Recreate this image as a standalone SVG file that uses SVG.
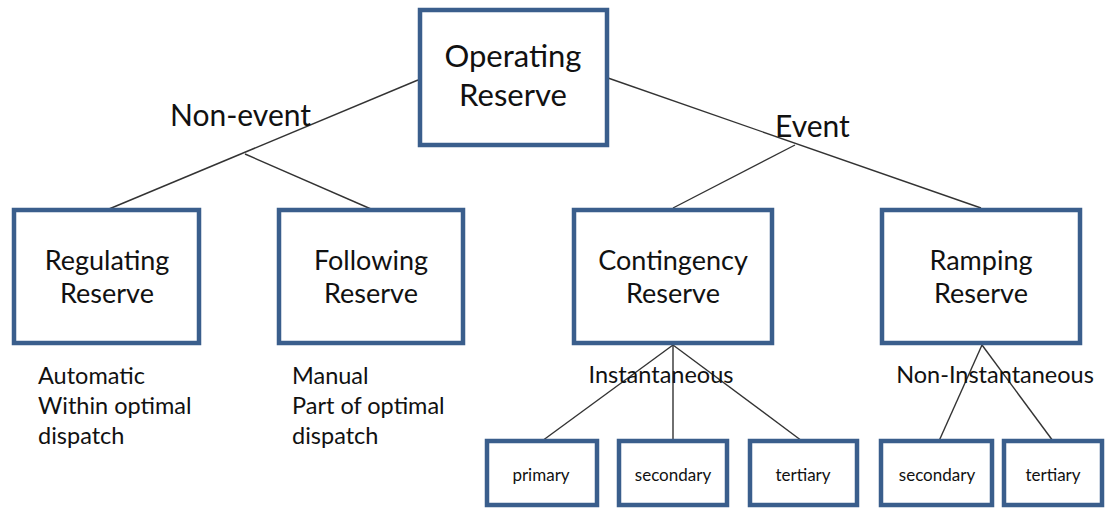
<svg xmlns="http://www.w3.org/2000/svg" width="1106" height="508" viewBox="0 0 1106 508">
<style>
.box{fill:#fff;stroke:#3A5E8C;stroke-width:4.5}
.t{font-family:Lato,"Liberation Sans",sans-serif;fill:#111;text-anchor:middle}
.big{font-size:31px}
.mid{font-size:27px}
.lbl{font-family:Lato,"Liberation Sans",sans-serif;fill:#111;font-size:30px}
.sub{font-family:Lato,"Liberation Sans",sans-serif;fill:#111;font-size:23.5px}
.sm{font-size:17px}
.c{stroke:#333;stroke-width:1.4;fill:none}
</style>
<rect width="1106" height="508" fill="#fff"/>
<g id="connectors">
<line class="c" x1="418" y1="80" x2="109" y2="209"/>
<line class="c" x1="245" y1="154" x2="371" y2="209"/>
<line class="c" x1="608" y1="78" x2="981" y2="208"/>
<line class="c" x1="795" y1="145" x2="673" y2="208"/>
<line class="c" x1="673" y1="345" x2="542" y2="441"/>
<line class="c" x1="673" y1="345" x2="673" y2="441"/>
<line class="c" x1="673" y1="345" x2="802" y2="441"/>
<line class="c" x1="982" y1="345" x2="939" y2="441"/>
<line class="c" x1="982" y1="345" x2="1053" y2="441"/>
</g>
<g id="labels">
<text class="lbl" x="170" y="126">Non-event</text>
<text class="lbl" x="775" y="137">Event</text>
<text class="sub" x="661" y="383" text-anchor="middle">Instantaneous</text>
<text class="sub" x="995" y="383" text-anchor="middle">Non-Instantaneous</text>
<text class="sub" x="38" y="384">Automatic</text>
<text class="sub" x="38" y="414">Within optimal</text>
<text class="sub" x="38" y="444">dispatch</text>
<text class="sub" x="292" y="384">Manual</text>
<text class="sub" x="292" y="414">Part of optimal</text>
<text class="sub" x="292" y="444">dispatch</text>
</g>
<g id="operating-reserve">
<rect class="box" x="420" y="10" width="187" height="135"/>
<text class="t big" x="513" y="67">Operating</text>
<text class="t big" x="513" y="106">Reserve</text>
</g>
<g id="regulating-reserve">
<rect class="box" x="14" y="210" width="185" height="133"/>
<text class="t mid" x="107" y="270">Regulating</text>
<text class="t mid" x="107" y="303">Reserve</text>
</g>
<g id="following-reserve">
<rect class="box" x="279" y="210" width="184" height="133"/>
<text class="t mid" x="371" y="270">Following</text>
<text class="t mid" x="371" y="303">Reserve</text>
</g>
<g id="contingency-reserve">
<rect class="box" x="574" y="210" width="198" height="133"/>
<text class="t mid" x="673" y="270">Contingency</text>
<text class="t mid" x="673" y="303">Reserve</text>
</g>
<g id="ramping-reserve">
<rect class="box" x="882" y="210" width="198" height="133"/>
<text class="t mid" x="981" y="270">Ramping</text>
<text class="t mid" x="981" y="303">Reserve</text>
</g>
<g id="primary">
<rect class="box" x="487" y="441" width="110" height="64"/>
<text class="t sm" x="541" y="481">primary</text>
</g>
<g id="secondary-inst">
<rect class="box" x="619" y="441" width="108" height="64"/>
<text class="t sm" x="673" y="481">secondary</text>
</g>
<g id="tertiary-inst">
<rect class="box" x="750" y="441" width="107" height="64"/>
<text class="t sm" x="803" y="481">tertiary</text>
</g>
<g id="secondary-noninst">
<rect class="box" x="881" y="441" width="111" height="64"/>
<text class="t sm" x="937" y="481">secondary</text>
</g>
<g id="tertiary-noninst">
<rect class="box" x="1004" y="441" width="98" height="64"/>
<text class="t sm" x="1053" y="481">tertiary</text>
</g>
</svg>
